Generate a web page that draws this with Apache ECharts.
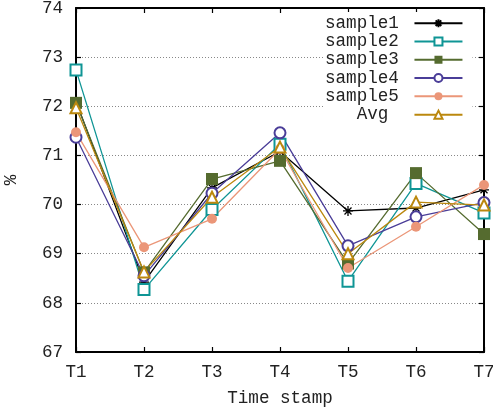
<!DOCTYPE html>
<html>
<head>
<meta charset="utf-8">
<script src="https://cdn.jsdelivr.net/npm/echarts@6/dist/echarts.min.js"></script>
<style>html,body{margin:0;padding:0;background:#fff}#c{width:493px;height:411px}</style>
</head>
<body>
<div id="c"></div>
<script>
var categories = ['T1', 'T2', 'T3', 'T4', 'T5', 'T6', 'T7'];
var sample1 = [72.10, 68.42, 70.34, 71.08, 69.87, 69.93, 70.30];
var sample2 = [72.74, 68.27, 69.90, 71.23, 68.44, 70.43, 69.83];
var sample3 = [72.07, 68.62, 70.52, 70.89, 68.80, 70.64, 69.40];
var sample4 = [71.37, 68.55, 70.23, 71.46, 69.16, 69.75, 70.04];
var sample5 = [71.47, 69.13, 69.71, 71.13, 68.71, 69.55, 70.40];
var avg     = [71.97, 68.63, 70.15, 71.17, 69.00, 70.05, 69.99];
var yMin = 67, yMax = 74, yStep = 1;
var xTitle = 'Time stamp';
var yTitle = '%';

var FONT = 'Liberation Mono';
var FS = 17.6;
var starPath = 'path://M0,5 L10,5 M5,0 L5,10 M1.5,1.5 L8.5,8.5 M8.5,1.5 L1.5,8.5';

function mk(name, data, color, symbol, size, extra) {
  var s = {
    name: name, type: 'line', data: data, xAxisIndex: 0, yAxisIndex: 0,
    symbol: symbol, symbolSize: size, showAllSymbol: true,
    lineStyle: { color: color, width: 1.3 },
    itemStyle: { color: color },
    emphasis: { disabled: true },
    animation: false
  };
  if (extra) for (var k in extra) s[k] = extra[k];
  return s;
}

var chart = echarts.init(document.getElementById('c'), null, { renderer: 'canvas' });
chart.setOption({
  backgroundColor: '#fff',
  animation: false,
  textStyle: { fontFamily: FONT },
  grid: { left: 76, right: 9, top: 8, bottom: 59, outerBoundsMode: 'none', containLabel: false },
  legend: {
    orient: 'vertical', align: 'right', left: 325, top: 12,
    itemWidth: 48, itemHeight: 10, itemGap: 0,
    padding: [2, 9, 2, 0],
    backgroundColor: '#fff',
    textStyle: { fontFamily: FONT, fontSize: FS, color: '#222', lineHeight: 18.3 },
    formatter: function (n) { return n === 'Avg' ? '   Avg  ' : n + ' '; },
    data: ['sample1', 'sample2', 'sample3', 'sample4', 'sample5', 'Avg']
  },
  xAxis: [{
    type: 'category', data: categories, boundaryGap: false, position: 'bottom',
    name: xTitle, nameLocation: 'middle', nameGap: 37,
    nameTextStyle: { fontFamily: FONT, fontSize: FS, color: '#222' },
    axisLine: { lineStyle: { color: '#000', width: 2 } },
    axisTick: { inside: true, length: 5, lineStyle: { color: '#000', width: 1.2 } },
    axisLabel: { fontFamily: FONT, fontSize: FS, color: '#222', margin: 11 },
    splitLine: { show: false }
  }, {
    type: 'category', data: categories, boundaryGap: false, position: 'top',
    axisLine: { lineStyle: { color: '#000', width: 2 } },
    axisTick: { inside: true, length: 5, lineStyle: { color: '#000', width: 1.2 } },
    axisLabel: { show: false }, splitLine: { show: false }
  }],
  yAxis: [{
    type: 'value', min: yMin, max: yMax, interval: yStep, position: 'left',
    name: yTitle, nameLocation: 'middle', nameGap: 56, nameRotate: 90,
    nameTextStyle: { fontFamily: FONT, fontSize: FS, color: '#222' },
    axisLine: { show: true, lineStyle: { color: '#000', width: 2 } },
    axisTick: { show: true, inside: true, length: 5, lineStyle: { color: '#000', width: 1.2 } },
    axisLabel: { fontFamily: FONT, fontSize: FS, color: '#222', margin: 13 },
    splitLine: { show: true, lineStyle: { color: '#888', width: 1, type: [1, 2] } }
  }, {
    type: 'value', min: yMin, max: yMax, interval: yStep, position: 'right',
    axisLine: { show: true, lineStyle: { color: '#000', width: 2 } },
    axisTick: { show: true, inside: true, length: 5, lineStyle: { color: '#000', width: 1.2 } },
    axisLabel: { show: false }, splitLine: { show: false }
  }],
  series: [
    mk('sample1', sample1, '#000000', starPath, 10, { itemStyle: { color: 'rgba(0,0,0,0)', borderColor: '#000', borderWidth: 1.3 } }),
    mk('sample2', sample2, '#0f9595', 'emptyRect', 11, { itemStyle: { color: '#0f9595', borderWidth: 1.3 } }),
    mk('sample3', sample3, '#556b2f', 'rect', 12),
    mk('sample4', sample4, '#4a3d98', 'emptyCircle', 11, { itemStyle: { color: '#4a3d98', borderWidth: 1.3 } }),
    mk('sample5', sample5, '#eb9678', 'circle', 10),
    mk('Avg', avg, '#bb880e', 'emptyTriangle', 11, { itemStyle: { color: '#bb880e', borderWidth: 1.3 } })
  ]
});
</script>
</body>
</html>
